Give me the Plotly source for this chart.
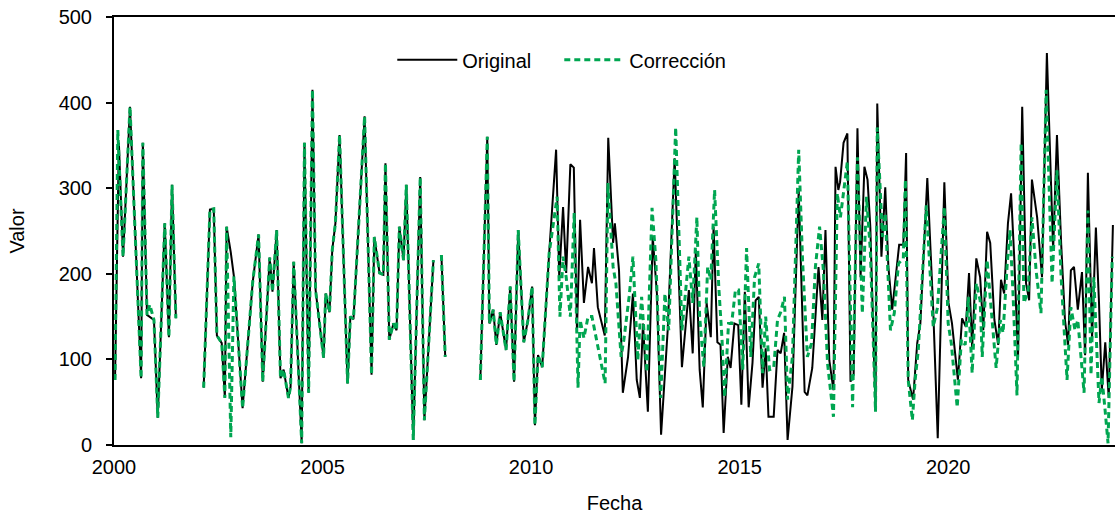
import plotly.graph_objects as go

# Time axis: months elapsed since January 2000 (None = gap in the record)
mes_original = [
    0.3, 1.4, 2.6, 4.6, 7.8, 8.3, 9.5, 10.3, 11.5, 12.6, 14.6, 15.8, 16.7, 17.8, None,
    25.8, 27.6, 28.7, 29.6, 31.0, 31.9, 32.4, 33.6, 34.5, 37.0, 39.9, 41.6, 42.8, 44.8,
    45.6, 46.8, 47.9, 48.8, 50.2, 50.8, 51.7, 54.0, 54.8, 56.0, 57.1, 58.0, 60.3, 60.9,
    62.0, 62.8, 63.7, 64.9, 67.2, 68.0, 68.9, 72.1, 74.1, 74.9, 76.4, 77.5, 78.1, 79.2,
    80.4, 81.3, 82.1, 83.3, 84.1, 86.1, 88.1, 89.3, 91.9, None, 94.2, 95.3, None,
    105.4, 107.4, 108.0, 109.1, 110.0, 111.1, 112.8, 114.0, 115.1, 116.3, 117.9, 119.1,
    120.3, 121.1, 122.0, 123.2, 125.2, 127.2, 128.1, 129.2, 130.1, 131.3, 132.3, 133.2,
    134.1, 135.2, 136.4, 137.5, 138.1, 139.2, 141.2, 142.2, 143.6, 144.1, 145.3, 146.4,
    147.9, 149.3, 150.4, 151.3, 152.2, 153.6, 155.0, 156.2, 157.4, 159.3, 161.3, 163.4,
    165.4, 166.5, 167.4, 168.5, 169.4, 170.5, 171.7, 172.5, 173.6, 174.5, 175.4, 176.6,
    177.4, 178.5, 179.6, 180.5, 181.5, 182.6, 183.7, 184.6, 185.5, 186.6, 187.5, 188.3,
    189.8, 190.9, 191.8, 192.8, 193.8, 195.2, 197.0, 198.7, 199.5, 200.9, 202.7, 203.8,
    204.7, 205.8, 207.0, 207.6, 208.4, 208.9, 209.9, 211.0, 211.9, 212.8, 213.9, 214.8,
    215.9, 216.8, 217.6, 219.1, 219.6, 220.8, 221.9, 222.8, 223.9, 225.9, 227.1, 227.9,
    228.5, 229.9, 231.1, 232.0, 234.0, 235.7, 237.0, 238.9, 240.1, 241.1, 242.8, 244.0,
    245.1, 246.0, 246.9, 248.1, 249.2, 250.1, 251.2, 252.1, 253.3, 254.4, 255.2, 256.1,
    257.2, 258.1, 259.0, 260.1, 261.3, 262.4, 263.3, 264.1, 265.6, 267.0, 268.4, 270.2,
    271.3, 272.5, 273.6, 274.5, 275.3, 276.2, 277.3, 278.5, 279.4, 280.2, 281.4, 282.5,
    283.4, 284.2, 285.2, 286.2, 287.4,
]
valor_original = [
    76, 353, 220, 395, 78, 353, 152, 150, 146, 32, 259, 126, 304, 148, None,
    67, 275, 276, 128, 119, 55, 255, 225, 197, 43, 190, 246, 74, 219,
    179, 251, 78, 88, 55, 68, 214, 2, 353, 61, 415, 181, 102, 177,
    155, 228, 259, 362, 72, 150, 147, 384, 82, 243, 201, 199, 329, 123,
    142, 134, 255, 216, 304, 6, 313, 29, 216, None, 222, 103, None,
    76, 360, 142, 158, 117, 155, 111, 185, 74, 251, 120, 146,
    185, 23, 105, 91, 224, 345, 196, 278, 201, 328, 324, 134,
    263, 166, 208, 189, 230, 161, 128, 359, 236, 259, 204, 61,
    103, 177, 76, 55, 142, 39, 243, 177, 12, 134, 335, 91,
    181, 107, 228, 88, 44, 166, 126, 255, 120, 117, 14, 103,
    90, 142, 140, 47, 179, 44, 96, 169, 173, 67, 113, 33,
    33, 111, 107, 131, 6, 68, 298, 62, 58, 90, 208, 146,
    251, 99, 64, 325, 298, 307, 353, 364, 74, 82, 370, 196,
    325, 310, 255, 41, 399, 220, 301, 208, 158, 234, 234, 341,
    76, 53, 119, 142, 312, 158, 8, 307, 166, 142, 76, 148,
    138, 201, 114, 218, 196, 134, 249, 236, 146, 117, 193, 177,
    259, 294, 220, 102, 395, 189, 169, 310, 266, 196, 458, 228,
    362, 236, 146, 117, 204, 208, 158, 202, 105, 318, 125, 254,
    166, 64, 120, 55, 257,
]

mes_correccion = [
    0.3, 1.1, 2.6, 4.6, 7.8, 8.3, 9.5, 10.3, 11.5, 12.6, 14.6, 15.8, 16.7, 17.8, None,
    25.8, 27.6, 28.7, 29.6, 31.0, 31.9, 32.4, 33.6, 34.5, 37.0, 39.9, 41.6, 42.8, 44.8,
    45.6, 46.8, 47.9, 48.8, 50.2, 50.8, 51.7, 54.0, 54.8, 56.0, 57.1, 58.0, 60.3, 60.9,
    62.0, 62.8, 63.7, 64.9, 67.2, 68.0, 68.9, 72.1, 74.1, 74.9, 76.4, 77.5, 78.1, 79.2,
    80.4, 81.3, 82.1, 83.3, 84.1, 86.1, 88.1, 89.3, 91.9, None, 94.2, 95.3, None,
    105.4, 107.4, 108.0, 109.1, 110.0, 111.1, 112.8, 114.0, 115.1, 116.3, 117.9, 119.1,
    120.3, 121.1, 122.0, 123.2, 125.2, 127.5, 128.3, 129.2, 130.1, 131.3, 132.4, 133.5,
    134.1, 135.2, 136.4, 137.5, 138.1, 139.5, 141.3, 142.1, 143.6, 144.4, 145.9, 146.7,
    148.2, 149.3, 150.7, 151.8, 153.3, 154.8, 155.9, 157.3, 158.5, 159.6, 161.6, 163.4,
    164.5, 165.4, 166.5, 167.7, 168.5, 169.7, 170.8, 171.7, 172.8, 174.0, 174.9, 175.7,
    176.8, 177.7, 178.8, 179.7, 180.9, 182.0, 183.2, 184.3, 185.5, 186.6, 187.5, 188.6,
    189.8, 190.9, 191.8, 192.9, 193.8, 195.2, 197.0, 198.1, 199.5, 200.7, 201.8, 203.0,
    204.1, 205.3, 207.0, 208.1, 209.0, 211.0, 212.5, 213.9, 215.3, 216.5, 217.6, 219.1,
    219.6, 221.1, 221.9, 223.4, 224.5, 225.7, 227.1, 227.7, 228.5, 229.7, 230.5, 231.4,
    233.7, 235.7, 236.9, 238.9, 240.0, 240.9, 242.6, 243.8, 244.9, 245.8, 246.9, 248.1,
    249.2, 249.8, 251.2, 252.7, 253.8, 255.0, 255.8, 257.0, 257.8, 258.7, 259.8, 261.0,
    261.8, 263.0, 264.1, 265.3, 266.7, 268.2, 269.9, 271.3, 272.5, 274.2, 275.3, 276.5,
    277.3, 279.1, 280.2, 281.1, 281.9, 283.4, 284.2, 285.1, 286.0, 287.2,
]
valor_correccion = [
    76, 368, 220, 395, 78, 353, 152, 164, 146, 32, 259, 126, 304, 148, None,
    67, 275, 276, 128, 119, 55, 255, 9, 197, 43, 190, 246, 74, 219,
    179, 251, 78, 88, 55, 68, 214, 2, 353, 61, 415, 181, 102, 177,
    155, 228, 259, 362, 72, 150, 147, 384, 82, 243, 201, 199, 329, 123,
    142, 134, 255, 216, 304, 6, 313, 29, 216, None, 222, 103, None,
    76, 360, 142, 158, 117, 155, 111, 185, 74, 251, 120, 146,
    185, 23, 105, 91, 224, 290, 150, 220, 196, 150, 271, 67,
    146, 125, 150, 150, 138, 107, 72, 306, 208, 189, 103, 123,
    173, 220, 99, 173, 85, 277, 216, 55, 177, 134, 371, 134,
    177, 220, 166, 266, 150, 91, 208, 193, 298, 185, 126, 56,
    142, 142, 181, 181, 88, 230, 103, 196, 212, 84, 150, 88,
    90, 146, 155, 173, 53, 103, 345, 216, 103, 119, 208, 255,
    204, 95, 33, 294, 266, 331, 44, 336, 154, 290, 228, 39,
    371, 243, 271, 134, 154, 212, 218, 310, 76, 29, 76, 111,
    280, 138, 160, 278, 142, 119, 44, 123, 117, 173, 84, 189,
    169, 103, 216, 146, 90, 146, 131, 212, 251, 173, 58, 353,
    166, 180, 266, 204, 154, 415, 189, 321, 196, 76, 161, 134,
    146, 61, 274, 82, 196, 49, 80, 43, 2, 220,
]

x_ticks = [2000, 2005, 2010, 2015, 2020]
y_ticks = [0, 100, 200, 300, 400, 500]


def to_year(months):
    return [None if m is None else 2000 + m / 12 for m in months]


FONT = "Liberation Sans, Arial, sans-serif"

fig = go.Figure()
fig.add_trace(go.Scatter(
    x=to_year(mes_original), y=valor_original, mode="lines", name="Original",
    line=dict(color="black", width=2), connectgaps=False,
))
fig.add_trace(go.Scatter(
    x=to_year(mes_correccion), y=valor_correccion, mode="lines", name="Corrección",
    line=dict(color="#00A651", width=3, dash="6px,4px"), connectgaps=False,
))

fig.update_layout(
    width=1115, height=518, autosize=False,
    margin=dict(l=114, r=0, t=17, b=73),
    paper_bgcolor="white", plot_bgcolor="white",
    font=dict(family=FONT, size=20, color="black"),
    showlegend=True,
    legend=dict(
        orientation="h", x=0.278, y=0.90, xanchor="left", yanchor="middle",
        bgcolor="rgba(0,0,0,0)", font=dict(size=20), itemwidth=60,
        entrywidth=92, entrywidthmode="pixels", tracegroupgap=0,
    ),
    xaxis=dict(
        range=[2000, 2024], tickvals=x_ticks, ticktext=[str(t) for t in x_ticks],
        showline=True, linecolor="black", linewidth=2, mirror=True,
        ticks="", showgrid=False, zeroline=False, ticklabelstandoff=3,
        title=dict(text="Fecha", font=dict(size=20), standoff=19),
        tickfont=dict(size=20),
    ),
    yaxis=dict(
        range=[0, 500], tickvals=y_ticks,
        showline=True, linecolor="black", linewidth=2, mirror=False,
        ticks="outside", ticklen=6, tickcolor="black", tickwidth=1.5,
        ticklabelstandoff=10, ticklabeloverflow="allow",
        showgrid=False, zeroline=False,
        title=dict(text="Valor", font=dict(size=20), standoff=29),
        tickfont=dict(size=20),
    ),
)

# Remove the default page margin so the 1115x518 figure fills the window exactly.
fig.write_html(
    "out.html",
    config={"displayModeBar": False},
    post_script="document.body.style.margin='0';document.body.style.overflow='hidden';",
)
